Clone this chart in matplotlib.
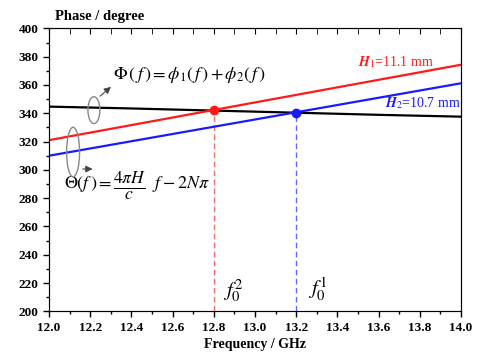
import matplotlib.pyplot as plt
from matplotlib.patches import Ellipse
from matplotlib.ticker import MultipleLocator

plt.rcParams['font.family'] = 'Liberation Serif'
plt.rcParams['mathtext.fontset'] = 'stix'

# data
freq = [12.0, 14.0]
phase_h1 = [321.0, 374.3]
phase_h2 = [310.0, 361.2]
freq_black = [12.0, 12.4, 12.8, 13.2, 13.6, 14.0]
phase_black = [344.7, 343.4, 341.9, 340.4, 338.9, 337.6]
f0_2, p0_2 = 12.8, 342.0
f0_1, p0_1 = 13.2, 340.5

fig = plt.figure(figsize=(4.78, 3.59), dpi=100)
ax = fig.add_axes([0.1025, 0.1326, 0.862, 0.7884])

ax.plot(freq_black, phase_black, color='black', lw=1.6, zorder=3)
ax.plot(freq, phase_h1, color='#ff1a1a', lw=1.6, zorder=4)
ax.plot(freq, phase_h2, color='#1a1aff', lw=1.6, zorder=4)

ax.plot([f0_2, f0_2], [200, p0_2], color='#ff6b6b', lw=1.0, ls=(0, (4, 2.5)), zorder=2)
ax.plot([f0_1, f0_1], [200, p0_1], color='#5a6bff', lw=1.0, ls=(0, (4, 2.5)), zorder=2)
ax.plot([f0_2], [p0_2], 'o', color='#ff1a1a', ms=6, zorder=5)
ax.plot([f0_1], [p0_1], 'o', color='#1a1aff', ms=6, zorder=5)

ax.set_xlim(12.0, 14.0)
ax.set_ylim(200, 400)
ax.xaxis.set_major_locator(MultipleLocator(0.2))
ax.xaxis.set_minor_locator(MultipleLocator(0.1))
ax.yaxis.set_major_locator(MultipleLocator(20))
ax.yaxis.set_minor_locator(MultipleLocator(10))
ax.xaxis.set_major_formatter(plt.FormatStrFormatter('%.1f'))
ax.tick_params(which='major', direction='out', length=4, width=1, labelsize=9.5)
ax.tick_params(which='minor', direction='out', length=2.5, width=1)
for lab in ax.get_xticklabels() + ax.get_yticklabels():
    lab.set_fontweight('bold')
for sp in ax.spines.values():
    sp.set_color('#555555')

# top ticks pointing inward
top = ax.twiny()
top.set_xlim(12.0, 14.0)
top.xaxis.set_major_locator(MultipleLocator(0.2))
top.xaxis.set_minor_locator(MultipleLocator(0.1))
top.tick_params(which='both', direction='in', length=4, labeltop=False)

ax.set_xlabel('Frequency / GHz', fontsize=10, fontweight='bold', labelpad=3)
fig.text(0.115, 0.955, 'Phase / degree', fontsize=10.5, fontweight='bold', ha='left', va='center')

ax.text(13.50, 376, r'$\boldsymbol{H}_1$=11.1 mm', color='#ff1a1a', fontsize=10, va='center')
ax.text(13.63, 347, r'$\boldsymbol{H}_2$=10.7 mm', color='#1a1aff', fontsize=10, va='center')

ax.text(12.31, 367, r'$\Phi\,\left(\,f\,\right)=\phi_1\left(\,f\,\right)+\phi_2\left(\,f\,\right)$',
        fontsize=13, va='center')

# Theta formula in three pieces so the fraction keeps full size
ax.text(12.073, 290, r'$\Theta\left(f\,\right)=$', fontsize=13, va='center')
ax.text(12.39, 288.5, r'$\frac{4\pi H}{c}$', fontsize=18, va='center', ha='center')
ax.text(12.50, 290, r'$f-2N\pi$', fontsize=13, va='center')

ax.text(12.845, 215, r'$f_0^2$', fontsize=15, va='center')
ax.text(13.255, 215.5, r'$f_0^1$', fontsize=15, va='center')

ax.add_patch(Ellipse((12.218, 342.2), 0.058, 19, fill=False, ec='#888888', lw=1, zorder=6))
ax.add_patch(Ellipse((12.117, 312.6), 0.063, 35, fill=False, ec='#888888', lw=1, zorder=6))
ax.annotate('', xy=(12.311, 360), xytext=(12.238, 350.8),
            arrowprops=dict(arrowstyle='-|>', color='#444444', lw=0.8, mutation_scale=10))
ax.annotate('', xy=(12.225, 300.6), xytext=(12.15, 300.6),
            arrowprops=dict(arrowstyle='-|>', color='#444444', lw=0.8, mutation_scale=10))

fig.savefig('out.png', dpi=100)
